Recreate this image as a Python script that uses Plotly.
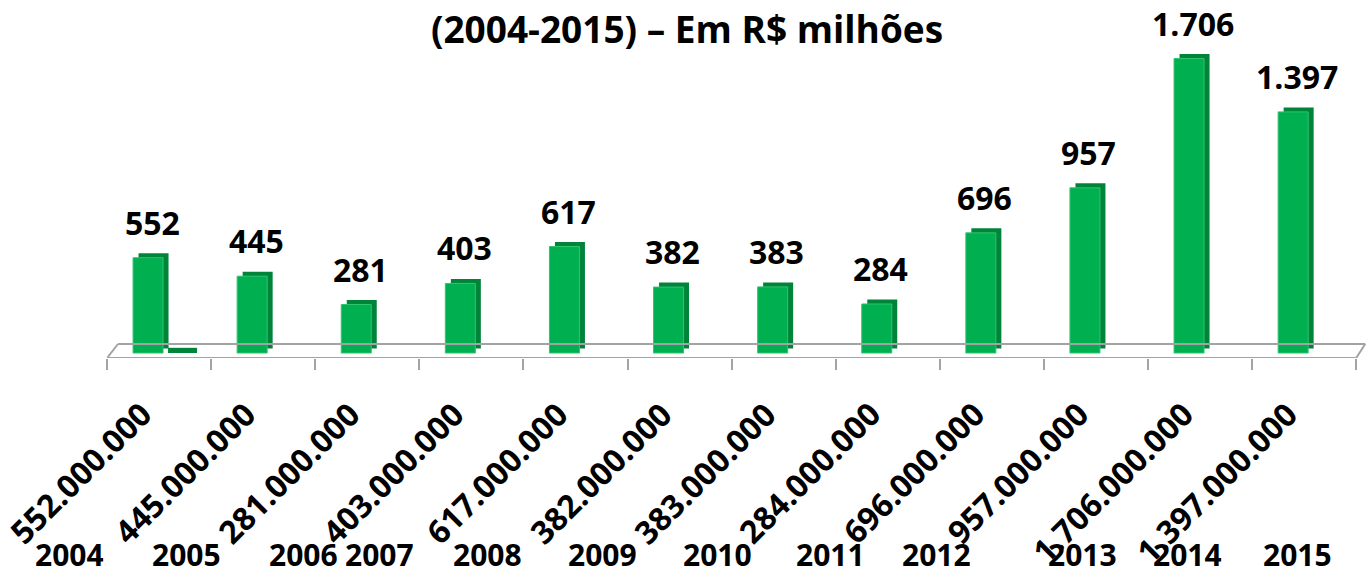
import plotly.graph_objects as go

# ---- data ----
anos = ["2004", "2005", "2006", "2007", "2008", "2009", "2010", "2011", "2012", "2013", "2014", "2015"]
valores_milhoes = [552, 445, 281, 403, 617, 382, 383, 284, 696, 957, 1706, 1397]
serie_2 = [30, 0, 0, 0, 0, 0, 0, 0, 0, 0, 0, 0]

# ---- layout constants (pixels) ----
W, H = 1366, 575
PX_L, PX_R = 107, 1366          # plot area x (px)
PX_TOP, PX_BOT = 40, 358        # plot area y (px)
CAT_PX = 104.1                  # px per category
Y_PX = 0.1726                   # px per unit
BASE_PX = 353                   # bar base (px)

FONT = "Open Sans"
GREEN = "#00b050"
DARK = "#00843a"
FLOOR = "#a3a3a3"

def dx(px):
    return px / CAT_PX

def dy(px):
    return px / Y_PX

def py(px):
    # pixel y -> paper y
    return (PX_BOT - px) / (PX_BOT - PX_TOP)

def pxp(px):
    # pixel x -> paper x
    return (px - PX_L) / (PX_R - PX_L)

x = list(range(len(anos)))
x_min = -0.5
x_max = -0.5 + dx(PX_R - PX_L)
y_min = -dy(PX_BOT - BASE_PX)
y_max = dy(BASE_PX - PX_TOP)

fmt = lambda v: f"{v:,}".replace(",", ".")

fig = go.Figure()

# back/side face (3D look)
fig.add_trace(go.Bar(x=x, y=valores_milhoes, base=dy(4.5), width=dx(30), offset=-dx(26) + dx(5.5),
                     marker=dict(color=DARK, line=dict(width=0)), hoverinfo="skip", showlegend=False))
# small flat element at base of first bar
fig.add_trace(go.Bar(x=x, y=serie_2, base=0, width=dx(29), offset=dx(9),
                     marker=dict(color=DARK, line=dict(width=0)), hoverinfo="skip", showlegend=False))
# front face
fig.add_trace(go.Bar(x=x, y=valores_milhoes, base=0, width=dx(30), offset=-dx(26),
                     marker=dict(color=GREEN, line=dict(width=1, color="#2fc46e")),
                     showlegend=False, name="R$ milhões"))

# data labels
for xi, v in zip(x, valores_milhoes):
    fig.add_annotation(x=xi - dx(7), y=v, xref="x", yref="y", text=f"<b>{fmt(v)}</b>",
                       showarrow=False, yanchor="bottom", xanchor="center", yshift=12,
                       font=dict(family=FONT, size=32, color="#000000"))

# rotated category labels (values in R$)
for xi, v in zip(x, valores_milhoes):
    fig.add_annotation(x=xi + dx(4), y=py(390), xref="x", yref="paper",
                       text=f"<b>{fmt(v * 1_000_000)}</b>", textangle=-45,
                       showarrow=False, xanchor="right", yanchor="top",
                       font=dict(family=FONT, size=32, color="#000000"))

# year labels (outer category level)
year_px = [69, 186, 303, 379, 487, 602, 717, 830, 937, 1082, 1187, 1297]
for a, p in zip(anos, year_px):
    fig.add_annotation(x=pxp(p), y=py(554), xref="paper", yref="paper",
                       text=f"<b>{a}</b>", showarrow=False, xanchor="center", yanchor="middle",
                       height=26, valign="middle", borderpad=0,
                       font=dict(family=FONT, size=30, color="#000000"))

# floor (3D base)
back = dy(BASE_PX - 344)
shapes = [
    dict(type="line", xref="x", yref="y", x0=-0.5, x1=11.5, y0=y_min, y1=y_min,
         line=dict(color=FLOOR, width=2)),
    dict(type="line", xref="x", yref="y", x0=-0.5 + dx(11), x1=11.5 + dx(9), y0=back, y1=back,
         line=dict(color=FLOOR, width=2)),
    dict(type="line", xref="x", yref="y", x0=-0.5, x1=-0.5 + dx(11), y0=y_min, y1=back,
         line=dict(color=FLOOR, width=2)),
    dict(type="line", xref="x", yref="y", x0=11.5, x1=11.5 + dx(9), y0=y_min, y1=back,
         line=dict(color=FLOOR, width=2)),
]

fig.update_layout(
    width=W, height=H,
    margin=dict(l=PX_L, r=W - PX_R, t=PX_TOP, b=H - PX_BOT, pad=0, autoexpand=False),
    paper_bgcolor="white", plot_bgcolor="white",
    barmode="overlay",
    separators=",.",
    shapes=shapes,
    title=dict(text="<b>(2004-2015) – Em R$ milhões</b>", x=687 / W, xref="container", xanchor="center",
               y=1 - 30 / H, yref="container", yanchor="middle", automargin=False,
               font=dict(family=FONT, size=37, color="#000000")),
    xaxis=dict(range=[x_min, x_max], tickmode="array", tickvals=x, showticklabels=False,
               ticks="", showline=False, showgrid=False, zeroline=False, automargin=False,
               minor=dict(tickmode="array", tickvals=[i - 0.5 for i in range(len(anos) + 1)],
                          ticks="outside", ticklen=11, tickwidth=2, tickcolor=FLOOR, showgrid=False),
               fixedrange=True),
    yaxis=dict(range=[y_min, y_max], visible=False, showgrid=False, zeroline=False,
               automargin=False, fixedrange=True),
    font=dict(family=FONT),
)

fig.write_html("out.html", config={"displayModeBar": False},
               post_script="document.body.style.margin='0';document.body.style.overflow='hidden';")
